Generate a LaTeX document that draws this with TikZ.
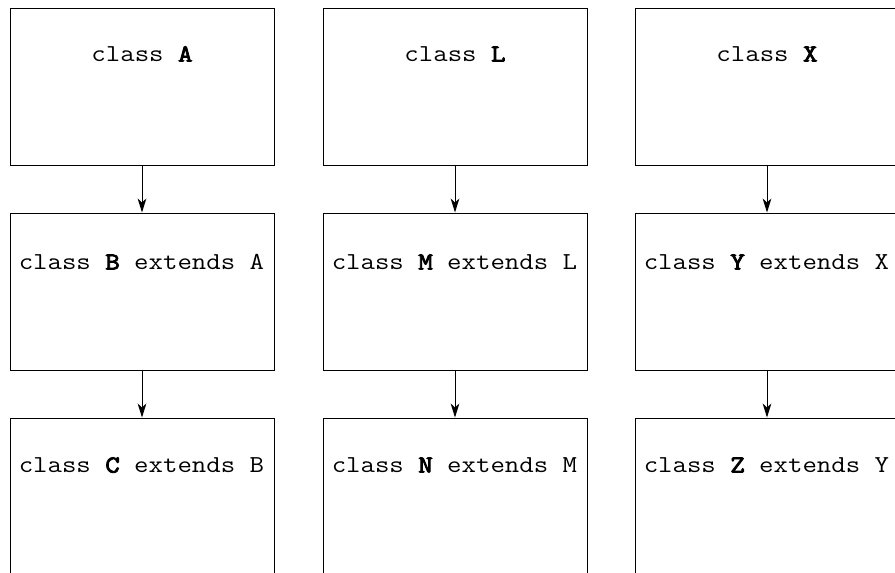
\documentclass[tikz,border=0pt]{standalone}
\usepackage{fontspec}
\setmonofont{Latin Modern Mono}[FakeStretch=1.15,BoldFont={Latin Modern Mono},BoldFeatures={FakeBold=3.5}]
\usetikzlibrary{arrows.meta,calc}

\tikzset{
  clase/.style={draw,line width=0.8pt,minimum width=7.92cm,minimum height=4.71cm,inner sep=0pt},
  flecha/.style={line width=0.8pt,-{Stealth[length=4.2mm,width=2.6mm,inset=1.2mm]}}
}

\begin{document}
\begin{tikzpicture}[x=0.03cm,y=-0.03cm,font=\ttfamily\fontsize{20.8}{24}\selectfont]
  \useasboundingbox (0,0) rectangle (895,573);
  \clip (0,0) rectangle (895,573);

  % Tres jerarquias de clases
  \foreach \cx/\a/\b/\c in {142/A/B/C,455/L/M/N,767/X/Y/Z} {
    \node[clase] (\a) at (\cx,86.5) {};
    \node[clase] (\b) at (\cx,291.5) {};
    \node[clase] (\c) at (\cx,496.5) {};
    \node[anchor=base] (t\a) at ($(\a.north)+(0,54)$) {class \textbf{\a}};
    \node[anchor=base west,inner sep=0pt] (t\b) at ($(\b.north west)+(9,57)$) {class \textbf{\b} extends \a};
    \node[anchor=base west,inner sep=0pt] (t\c) at ($(\c.north west)+(9,55)$) {class \textbf{\c} extends \b};
    \draw[flecha] (\a) -- (\b);
    \draw[flecha] (\b) -- (\c);
  }
\end{tikzpicture}
\end{document}
